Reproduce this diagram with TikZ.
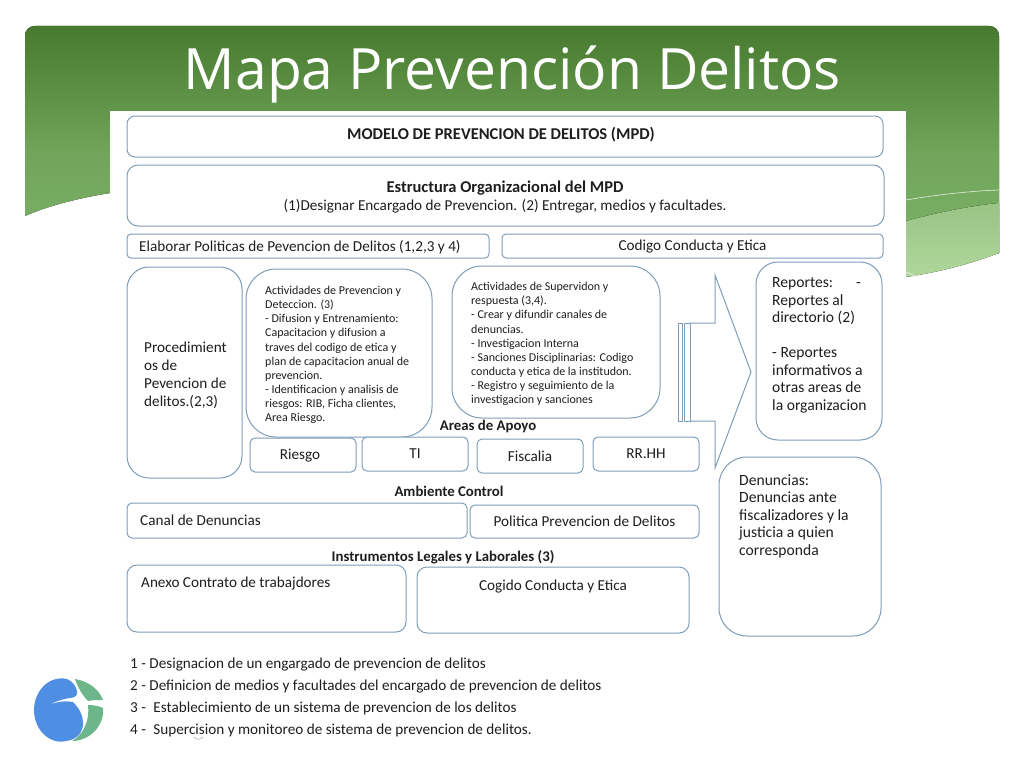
\documentclass[tikz,border=0pt]{standalone}
\usepackage{fontspec}
\setmainfont{Carlito}
\newfontfamily\titlefont{Open Sans}
\definecolor{boxline}{HTML}{7F9DB9}
\definecolor{bandtop}{HTML}{477A2E}
\definecolor{bandlow}{HTML}{7FB56B}
\definecolor{lighttop}{HTML}{98C486}
\definecolor{lightlow}{HTML}{B0D79B}
\definecolor{logoblue}{HTML}{4F8FE3}
\definecolor{logogreen}{HTML}{6DB58A}
\definecolor{txt}{HTML}{1E1E1E}
\tikzset{
	every node/.append style={inner sep=0pt, text=txt},
	pbox/.style={draw=boxline, line width=1pt, fill=white, align=center},
	big/.style={font=\fontsize{15.2}{18}\selectfont},
	mid/.style={font=\fontsize{15.6}{17.5}\selectfont},
	small/.style={font=\fontsize{12}{14.1}\selectfont},
	head/.style={font=\fontsize{14.8}{17}\selectfont\bfseries},
	headbig/.style={font=\fontsize{16.5}{19}\selectfont\bfseries},
}
\begin{document}
\begin{tikzpicture}[x=1pt,y=-1pt]
		\useasboundingbox (0,0) rectangle (1024,768);
		% background band
		\fill [top color=bandtop, bottom color=bandlow, middle color=bandlow!72!bandtop] (25,216) -- (25,36) .. controls (25,30) and (29,26) .. (35,26) -- (989,26) .. controls (995,26) and (999,30) .. (999,36) -- (999,253) -- (906,277) -- (110,193) .. controls (80,198) and (50,205) .. (25,216) -- cycle;
		\fill [top color=lighttop, bottom color=lightlow] (906,221) .. controls (940,212) and (970,206) .. (999,203) -- (999,253) .. controls (970,264) and (940,272) .. (906,277) -- cycle;
		\draw [white!70!bandlow, line width=0.7pt] (906,200) .. controls (935,195) and (970,191) .. (999,190);
		\draw [white!70!lightlow, line width=0.6pt] (906,272) -- (916,276);
		\fill [white] (110,111) rectangle (906,300);
		\node [font=\titlefont\fontsize{57}{60}\selectfont, text=white] (title) at (512.5,75) {Mapa Prevención Delitos};
		% top boxes
		\node [pbox, minimum width=756pt, minimum height=41pt, rounded corners=8pt] (mpd) at (505,136.5) {};
		\node [headbig] (mpdtxt) at (501,134.5) {MODELO DE PREVENCION DE DELITOS (MPD)};
		\node [pbox, minimum width=757pt, minimum height=61pt, rounded corners=11pt] (estr) at (505.5,195.5) {};
		\node [headbig] (estrtxt) at (505,188) {Estructura Organizacional del MPD};
		\node [big] (estrsub) at (505,206.5) {(1)Designar Encargado de Prevencion. (2) Entregar, medios y facultades.};
		\node [pbox, minimum width=362pt, minimum height=24pt, rounded corners=4pt] (polit) at (308,246) {};
		\node [big, anchor=west] (polittxt) at (139,247) {Elaborar Politicas de Pevencion de Delitos (1,2,3 y 4)};
		\node [pbox, minimum width=381pt, minimum height=24pt, rounded corners=4pt] (cod) at (692.5,246) {};
		\node [big] (codtxt) at (692.5,247) {Codigo Conducta y Etica};
		% middle boxes
		\node [pbox, minimum width=115pt, minimum height=211pt, rounded corners=22pt] (proc) at (184.5,372.5) {};
		\node [big, anchor=west, align=left] (proctxt) at (144,375) {Procedimient\\os de\\Pevencion de\\delitos.(2,3)};
		\node [pbox, minimum width=186pt, minimum height=168pt, rounded corners=30pt] (prev) at (339,353) {};
		\node [small, anchor=west, align=left] (prevtxt) at (265,355) {Actividades de Prevencion y\\Deteccion. (3)\\- Difusion y Entrenamiento:\\Capacitacion y difusion a\\traves del codigo de etica y\\plan de capacitacion anual de\\prevencion.\\- Identificacion y analisis de\\riesgos: RIB, Ficha clientes,\\Area Riesgo.};
		\node [pbox, minimum width=208pt, minimum height=152pt, rounded corners=30pt] (sup) at (556,342) {};
		\node [small, anchor=west, align=left] (suptxt) at (471,344) {Actividades de Supervidon y\\respuesta (3,4).\\- Crear y difundir canales de\\denuncias.\\- Investigacion Interna\\- Sanciones Disciplinarias: Codigo\\conducta y etica de la institudon.\\- Registro y seguimiento de la\\investigacion y sanciones};
		% striped arrow
		\draw [boxline, line width=1pt, fill=white] (690,323) -- (715,323) -- (715,275) -- (751,372) -- (715,468) -- (715,421) -- (690,421) -- cycle;
		\draw [boxline, line width=1pt, fill=white] (678,323) rectangle (682,421);
		\draw [boxline, line width=1pt, fill=white] (684,323) rectangle (690,421);
		% right boxes
		\node [pbox, minimum width=126pt, minimum height=178pt, rounded corners=22pt] (rep) at (819,351) {};
		\node [mid, anchor=north west, align=left] (reptxt) at (772,277.5) {Reportes:\hspace{23pt}-\\Reportes al\\directorio (2)\\\mbox{}\\- Reportes\\informativos a\\otras areas de\\la organizacion};
		\node [pbox, minimum width=162pt, minimum height=179pt, rounded corners=28pt] (den) at (800,546.5) {};
		\node [mid, anchor=north west, align=left] (dentxt) at (739,474.5) {Denuncias:\\Denuncias ante\\fiscalizadores y la\\justicia a quien\\corresponda};
		% areas de apoyo
		\node [head] (apoyo) at (488,426.5) {Areas de Apoyo};
		\node [pbox, minimum width=106pt, minimum height=34pt, rounded corners=5pt] (riesgo) at (303,455) {};
		\node [big] (riesgotxt) at (300,455.5) {Riesgo};
		\node [pbox, big, minimum width=106pt, minimum height=34pt, rounded corners=5pt] (ti) at (415,454) {TI};
		\node [pbox, big, minimum width=106pt, minimum height=34pt, rounded corners=5pt] (fisc) at (530,456) {Fiscalia};
		\node [pbox, big, minimum width=106pt, minimum height=34pt, rounded corners=5pt] (rrhh) at (646,454) {RR.HH};
		% ambiente control
		\node [head] (amb) at (449,491) {Ambiente Control};
		\node [pbox, minimum width=340pt, minimum height=35pt, rounded corners=5pt] (canal) at (297,520.5) {};
		\node [big, anchor=west] (canaltxt) at (140,520) {Canal de Denuncias};
		\node [pbox, big, minimum width=229pt, minimum height=33pt, rounded corners=5pt] (polprev) at (584.5,521.5) {Politica Prevencion de Delitos};
		% instrumentos
		\node [head] (instr) at (443,557) {Instrumentos Legales y Laborales (3)};
		\node [pbox, minimum width=279pt, minimum height=67pt, rounded corners=10pt] (anexo) at (266.5,598.5) {};
		\node [big, anchor=west] (anexotxt) at (141,583.5) {Anexo Contrato de trabajdores};
		\node [pbox, minimum width=272pt, minimum height=66pt, rounded corners=10pt] (cogido) at (553,600) {};
		\node [big] (cogidotxt) at (553,586.5) {Cogido Conducta y Etica};
		% legend
		\node [big, anchor=west] (ley1) at (130,665) {1 - Designacion de un engargado de prevencion de delitos};
		\node [big, anchor=west] (ley2) at (130,687) {2 - Definicion de medios y facultades del encargado de prevencion de delitos};
		\node [big, anchor=west] (ley3) at (130,708) {3 -\hspace{4pt} Establecimiento de un sistema de prevencion de los delitos};
		\node [big, anchor=west] (ley4) at (130,730) {4 -\hspace{4pt} Supercision y monitoreo de sistema de prevencion de delitos.};
		\draw [gray!60, line width=0.7pt] (194,737) .. controls (197,740) and (200,740) .. (203,737);
		% logo
		\fill [logogreen] (75,679) .. controls (88,681) and (99,689) .. (103,700) .. controls (97,700) and (92,700) .. (88,701) .. controls (83,696) and (78,688) .. (75,679) -- cycle;
		\fill [logogreen] (88,705) .. controls (93,705) and (99,706) .. (103,708) .. controls (105,725) and (90,741) .. (72,741) .. controls (81,736) and (90,724) .. (88,705) -- cycle;
		\fill [logoblue] (73,702) .. controls (62,700) and (50,703) .. (42,709) .. controls (50,703) and (62,699) .. (70,698) .. controls (76,698) and (78,694) .. (77,691) .. controls (76,686) and (72,681) .. (67,679) .. controls (48,675) and (34,692) .. (34,710) .. controls (34,730) and (50,745) .. (66,741) .. controls (78,740) and (84,730) .. (83,722) .. controls (83,715) and (79,708) .. (73,702) -- cycle;
\end{tikzpicture}
\end{document}
